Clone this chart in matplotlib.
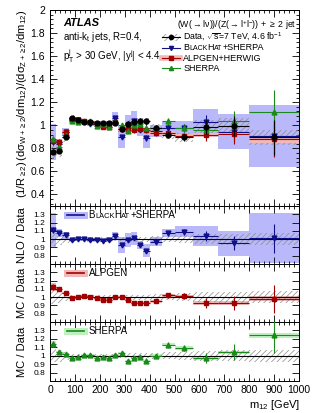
import numpy as np
import matplotlib
matplotlib.use("Agg")
import matplotlib.pyplot as plt
from matplotlib.ticker import MultipleLocator, FixedLocator, FuncFormatter
from matplotlib.offsetbox import TextArea, HPacker, AnnotationBbox

plt.rcParams['font.family'] = ['Liberation Sans', 'DejaVu Sans']
plt.rcParams['mathtext.fontset'] = 'custom'
plt.rcParams['mathtext.rm'] = 'Liberation Sans'
plt.rcParams['mathtext.it'] = 'Liberation Sans:italic'
plt.rcParams['mathtext.bf'] = 'Liberation Sans:bold'
plt.rcParams['mathtext.default'] = 'regular'
plt.rcParams['hatch.linewidth'] = 0.5

# m12 bins [GeV]
edges = np.array([0, 25, 50, 75, 100, 125, 150, 175, 200, 225, 250, 275, 300, 325,
                  350, 375, 400, 450, 500, 575, 675, 800, 1000])

# unfolded data ratio and its relative uncertainties
data = np.array([0.77, 0.78, 0.90, 1.06, 1.05, 1.03, 1.025, 1.02, 1.02, 1.02, 1.02,
                 0.965, 1.015, 1.03, 1.035, 1.035, 0.98, 0.915, 0.895, 0.985, 0.995, 0.895])
data_stat = np.array([0.03, 0.025, 0.02, 0.012, 0.01, 0.01, 0.01, 0.012, 0.012, 0.015, 0.018,
                      0.02, 0.02, 0.025, 0.025, 0.03, 0.025, 0.03, 0.035, 0.06, 0.09, 0.17])
data_syst = np.array([0.08, 0.07, 0.05, 0.025, 0.025, 0.02, 0.02, 0.02, 0.02, 0.02, 0.025,
                      0.025, 0.03, 0.03, 0.03, 0.03, 0.035, 0.04, 0.045, 0.06, 0.065, 0.07])

# prediction / data
nlo_ratio = np.array([1.11, 1.075, 1.045, 0.985, 1.0, 1.0, 0.99, 0.99, 0.98, 0.99, 1.04,
                      0.93, 0.99, 1.01, 0.93, 0.86, 0.97, 1.07, 1.09, 1.04, 0.95, 1.01])
nlo_band = np.array([0.2, 0.05, 0.04, 0.02, 0.02, 0.02, 0.02, 0.02, 0.02, 0.02, 0.05,
                     0.1, 0.08, 0.08, 0.05, 0.08, 0.05, 0.05, 0.07, 0.12, 0.15, 0.3])
alp_ratio = np.array([1.12, 1.10, 1.05, 0.995, 1.0, 1.01, 1.0, 0.99, 0.97, 0.965, 1.005,
                      1.0, 0.96, 0.93, 0.935, 0.93, 0.95, 1.02, 1.01, 0.93, 0.93, 0.98])
alp_band = np.array([0.05, 0.02, 0.015, 0.012, 0.012, 0.012, 0.012, 0.012, 0.012, 0.012, 0.012,
                     0.012, 0.012, 0.012, 0.015, 0.015, 0.015, 0.015, 0.02, 0.02, 0.02, 0.03])
sh_ratio = np.array([1.14, 1.045, 1.015, 0.975, 0.98, 1.005, 1.01, 0.975, 0.99, 0.97, 1.005,
                     1.035, 0.94, 0.97, 0.98, 0.94, 1.0, 1.13, 1.09, 0.975, 1.04, 1.245])
sh_band = np.array([0.04, 0.015, 0.012, 0.01, 0.01, 0.01, 0.01, 0.01, 0.01, 0.01, 0.01,
                    0.01, 0.01, 0.01, 0.012, 0.012, 0.015, 0.02, 0.02, 0.02, 0.02, 0.03])

centers = 0.5 * (edges[1:] + edges[:-1])
widths = np.diff(edges)

BLUE, BLUE_B = '#10108a', '#b8b8fa'
RED, RED_B = '#a00000', '#f2b8b8'
GREEN, GREEN_B = '#1a8a1a', '#bff0bf'
HATCH = '#8c8c8c'

W, H = 316, 413
fig = plt.figure(figsize=(W / 100, H / 100), dpi=100)

def px_axes(x0, x1, y0, y1):
    return fig.add_axes([x0 / W, 1 - y1 / H, (x1 - x0) / W, (y1 - y0) / H])

fmt = FuncFormatter(lambda v, p: '%g' % v)

def style(ax):
    ax.set_xlim(0, 1000)
    ax.xaxis.set_major_locator(MultipleLocator(100))
    ax.xaxis.set_minor_locator(MultipleLocator(20))
    ax.tick_params(which='both', direction='in', top=True, right=True, labelsize=7.5, width=0.6)
    ax.tick_params(which='major', length=5)
    ax.tick_params(which='minor', length=2.5)
    ax.yaxis.set_major_formatter(fmt)
    for s in ax.spines.values():
        s.set_linewidth(0.7)

def hatch_band(ax, mid, half):
    ax.bar(centers, 2 * half, bottom=mid - half, width=widths, align='center',
           facecolor='none', edgecolor=HATCH, hatch='//////', linewidth=0, zorder=2)

def smallcaps(ax, x, y, parts, big=7.0, small=5.4):
    kids = [TextArea(t, textprops=dict(size=big if up else small)) for t, up in parts]
    box = HPacker(children=kids, align='baseline', pad=0, sep=0)
    ab = AnnotationBbox(box, (x, y), xycoords=ax.transAxes, box_alignment=(0, 0.5),
                        frameon=False, pad=0)
    ax.add_artist(ab)

bh_parts = [('B', 1), ('LACK', 0), ('H', 1), ('AT', 0), ('+SHERPA', 1)]

# ---------------- main panel
ax = px_axes(50, 299, 10, 206)
style(ax)
ax.set_ylim(0.3, 2.0)
ax.yaxis.set_major_locator(MultipleLocator(0.2))
ax.yaxis.set_minor_locator(MultipleLocator(0.04))
ax.tick_params(axis='x', labelbottom=False)

nlo = data * nlo_ratio
alp = data * alp_ratio
sh = data * sh_ratio

ax.bar(centers, 2 * data * nlo_band, bottom=nlo - data * nlo_band, width=widths,
       color=BLUE_B, linewidth=0, zorder=1)
hatch_band(ax, data, data * data_syst)
ax.bar(centers, 2 * data * alp_band, bottom=alp - data * alp_band, width=widths,
       color=RED_B, linewidth=0, zorder=2)
ax.errorbar(centers, nlo, yerr=nlo * data_stat, xerr=widths / 2, fmt='v', color=BLUE,
            ms=3.5, lw=0.8, zorder=4)
ax.errorbar(centers, alp, yerr=alp * data_stat, xerr=widths / 2, fmt='s', color=RED,
            ms=3.5, lw=0.8, zorder=4)
ax.errorbar(centers, sh, yerr=sh * data_stat, xerr=widths / 2, fmt='^', color=GREEN,
            ms=3.5, lw=0.8, zorder=4)
ax.errorbar(centers, data, yerr=data * data_stat, xerr=widths / 2, fmt='o', color='k',
            ms=3.5, lw=0.8, zorder=5)

ax.text(0.052, 0.934, 'ATLAS', transform=ax.transAxes, fontsize=8, fontweight='bold',
        style='italic', va='center')
ax.text(0.052, 0.86, 'anti-k$_{t}$ jets, R=0.4,', transform=ax.transAxes, fontsize=7,
        va='center')
ax.text(0.052, 0.745, 'p$_{T}^{j}$ > 30 GeV, |y$^{j}$| < 4.4', transform=ax.transAxes,
        fontsize=7, va='baseline')

# legend, drawn by hand
ax.text(0.99, 0.925, r'$(W(\rightarrow l\nu))/(Z(\rightarrow l^{+}l^{-}))$ + $\geq$ 2 jet',
        transform=ax.transAxes, fontsize=6.3, ha='right', va='center')
hx = [0.45, 0.522]
hm = 0.486
ly = [0.861, 0.808, 0.755, 0.702]
ax.bar([hm], [0.035], bottom=ly[0] - 0.0175, width=hx[1] - hx[0], transform=ax.transAxes,
       facecolor='none', edgecolor=HATCH, hatch='//////', linewidth=0, clip_on=False)
ax.plot(hx, [ly[0]] * 2, color='k', lw=0.8, transform=ax.transAxes, clip_on=False)
ax.plot([hm], [ly[0]], 'o', color='k', ms=3, transform=ax.transAxes, clip_on=False)
ax.plot(hx, [ly[1]] * 2, color=BLUE, lw=0.8, transform=ax.transAxes, clip_on=False)
ax.plot([hm], [ly[1]], 'v', color=BLUE, ms=3, transform=ax.transAxes, clip_on=False)
ax.plot(hx, [ly[2]] * 2, color=RED_B, lw=4, transform=ax.transAxes, clip_on=False)
ax.plot(hx, [ly[2]] * 2, color=RED, lw=0.8, transform=ax.transAxes, clip_on=False)
ax.plot([hm], [ly[2]], 's', color=RED, ms=3, transform=ax.transAxes, clip_on=False)
ax.plot(hx, [ly[3]] * 2, color=GREEN, lw=0.8, transform=ax.transAxes, clip_on=False)
ax.plot([hm], [ly[3]], '^', color=GREEN, ms=3, transform=ax.transAxes, clip_on=False)
tx = 0.535
ax.text(tx, ly[0], r'Data, $\sqrt{s}$=7 TeV, 4.6 fb$^{-1}$', transform=ax.transAxes,
        fontsize=6.3, va='center')
smallcaps(ax, tx, ly[1], bh_parts, big=6.5, small=5.0)
ax.text(tx, ly[2], 'ALPGEN+HERWIG', transform=ax.transAxes, fontsize=6.5, va='center')
ax.text(tx, ly[3], 'SHERPA', transform=ax.transAxes, fontsize=6.5, va='center')

fig.text(22 / W, 1 - 10 / H,
         r'$(1/R_{\geq 2})\,(d\sigma_{W+\geq 2}/dm_{12})/(d\sigma_{Z+\geq 2}/dm_{12})$',
         rotation=90, fontsize=8, ha='center', va='top')

# ---------------- ratio panels
panels = [
    (206, 264, nlo_ratio, nlo_band, BLUE, BLUE_B, 'v', 'NLO / Data'),
    (264, 322, alp_ratio, alp_band, RED, RED_B, 's', 'MC / Data'),
    (322, 381, sh_ratio, sh_band, GREEN, GREEN_B, '^', 'MC / Data'),
]
for i, (y0, y1, r, band, col, bcol, mk, lab) in enumerate(panels):
    rx = px_axes(50, 299, y0, y1)
    style(rx)
    rx.set_ylim(0.7, 1.4)
    rx.yaxis.set_major_locator(FixedLocator([0.8, 0.9, 1.0, 1.1, 1.2, 1.3]))
    rx.tick_params(axis='y', labelsize=6)
    rx.bar(centers, 2 * band, bottom=r - band, width=widths, color=bcol, linewidth=0, zorder=1)
    hatch_band(rx, np.ones_like(data), data_syst)
    rx.axhline(1, color='k', lw=0.8, zorder=3)
    rx.errorbar(centers, r, yerr=r * data_stat, xerr=widths / 2, fmt=mk, color=col,
                ms=3.5, lw=0.8, zorder=4)
    if i < 2:
        rx.tick_params(axis='x', labelbottom=False)
    else:
        rx.tick_params(axis='x', pad=3)
    fig.text(22 / W, 1 - 0.5 * (y0 + y1) / H, lab, rotation=90, fontsize=8,
             ha='center', va='center')

    # small legend
    ly_r = 1 - 8.5 / (y1 - y0)
    rx.plot([0.068, 0.137], [ly_r] * 2, color=bcol, lw=5, transform=rx.transAxes, zorder=5)
    rx.plot([0.068, 0.137], [ly_r] * 2, color=col, lw=1.2, transform=rx.transAxes, zorder=5)
    if i == 0:
        smallcaps(rx, 0.155, ly_r, bh_parts, big=7, small=5.4)
    elif i == 1:
        rx.text(0.155, ly_r, 'ALPGEN', transform=rx.transAxes, fontsize=7, va='center')
    else:
        rx.text(0.155, ly_r, 'SHERPA', transform=rx.transAxes, fontsize=7, va='center')

fig.text(300 / W, 1 - 405 / H, 'm$_{12}$ [GeV]', fontsize=8, ha='right', va='center')

fig.savefig('out.png', dpi=100)
